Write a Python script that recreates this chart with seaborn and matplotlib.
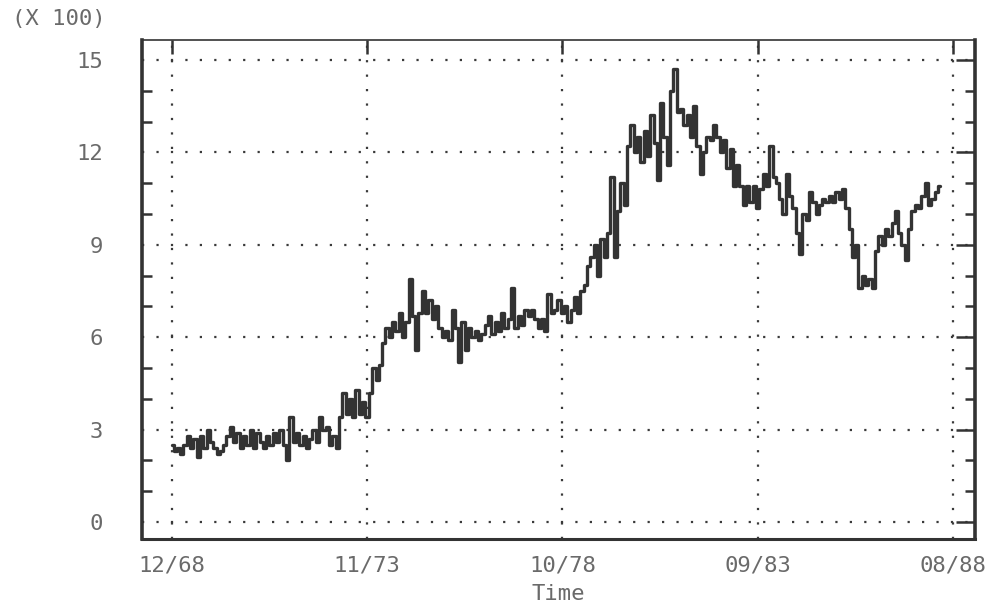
import numpy as np
import pandas as pd
import matplotlib
matplotlib.use("Agg")
import matplotlib.pyplot as plt
import matplotlib.dates as mdates
import seaborn as sns

# Monthly index level (in hundreds), Dec 1968 through Aug 1988
start_month = "1968-12-01"
values = [
    # 1968-12 .. 1969-12
    2.5, 2.3, 2.4, 2.2, 2.5, 2.8, 2.4, 2.7, 2.1, 2.8, 2.4, 3.0, 2.6,
    # 1970
    2.4, 2.2, 2.3, 2.5, 2.8, 3.1, 2.6, 2.9, 2.4, 2.8, 2.5, 3.0,
    # 1971
    2.4, 2.9, 2.6, 2.4, 2.8, 2.5, 2.9, 2.6, 3.0, 2.5, 2.0, 3.4,
    # 1972
    2.6, 2.9, 2.5, 2.8, 2.4, 2.7, 3.0, 2.6, 3.4, 3.0, 3.1, 2.5,
    # 1973
    2.8, 2.4, 3.4, 4.2, 3.5, 4.0, 3.4, 4.3, 3.5, 3.9, 3.4, 4.2,
    # 1974
    5.0, 4.6, 5.1, 5.8, 6.3, 6.0, 6.5, 6.2, 6.8, 6.0, 6.5, 7.9,
    # 1975
    6.7, 5.6, 6.8, 7.5, 6.8, 7.2, 6.6, 7.0, 6.3, 6.0, 6.2, 5.9,
    # 1976
    6.9, 6.3, 5.2, 6.5, 5.6, 6.3, 6.0, 6.2, 5.9, 6.1, 6.4, 6.7,
    # 1977
    6.1, 6.5, 6.2, 6.8, 6.3, 6.6, 7.6, 6.3, 6.7, 6.4, 6.9, 6.7,
    # 1978
    6.9, 6.6, 6.3, 6.6, 6.2, 7.4, 6.8, 6.9, 7.2, 6.8, 7.0, 6.5,
    # 1979
    6.9, 7.3, 6.8, 7.5, 7.7, 8.3, 8.6, 9.0, 8.0, 9.2, 8.6, 9.4,
    # 1980
    11.2, 8.6, 10.1, 11.0, 10.3, 12.2, 12.9, 12.0, 12.5, 11.7, 12.7, 11.9,
    # 1981
    13.2, 12.3, 11.1, 13.6, 12.5, 11.6, 14.0, 14.7, 13.3, 13.4, 12.9, 13.2,
    # 1982
    12.5, 13.5, 12.2, 11.3, 12.0, 12.5, 12.4, 12.9, 12.5, 12.0, 12.4, 11.5,
    # 1983
    12.1, 10.9, 11.6, 10.9, 10.3, 10.9, 10.4, 10.9, 10.2, 10.8, 11.3, 10.9,
    # 1984
    12.2, 11.2, 11.0, 10.5, 10.0, 11.3, 10.6, 10.2, 9.4, 8.7, 10.0, 9.8,
    # 1985
    10.7, 10.4, 10.0, 10.3, 10.5, 10.4, 10.6, 10.4, 10.7, 10.5, 10.8, 10.2,
    # 1986
    9.5, 8.6, 9.0, 7.6, 8.0, 7.7, 7.9, 7.6, 8.8, 9.3, 9.0, 9.5,
    # 1987
    9.3, 9.7, 10.1, 9.4, 9.0, 8.5, 9.5, 10.1, 10.3, 10.2, 10.6, 11.0,
    # 1988
    10.3, 10.5, 10.7, 10.9,
]

x_tick_dates = ["1968-12-01", "1973-11-01", "1978-10-01", "1983-09-01", "1988-08-01"]
y_ticks = [0, 3, 6, 9, 12, 15]

dates = pd.date_range(start_month, periods=len(values), freq="MS")
df = pd.DataFrame({"Time": dates, "value": values})

sns.set_theme(style="white")
plt.rcParams["font.family"] = ["DejaVu Sans Mono", "DejaVu Sans"]

ink = "#333333"
text_col = "#6a6a6a"

fig = plt.figure(figsize=(9.97, 6.13), dpi=100)
ax = fig.add_axes([142 / 997, 74 / 613, (975 - 142) / 997, (539 - 40) / 613])

sns.lineplot(data=df, x="Time", y="value", ax=ax, color=ink, linewidth=2.4,
             drawstyle="steps-mid", estimator=None, sort=False)

ax.set_xlim(pd.Timestamp("1968-03-01"), pd.Timestamp("1989-02-20"))
ax.set_ylim(-0.55, 15.65)

ax.set_xticks(pd.to_datetime(x_tick_dates))
ax.xaxis.set_major_formatter(mdates.DateFormatter("%m/%y"))
ax.set_yticks(y_ticks)
ax.set_yticks(np.arange(0, 16, 1), minor=True)

ax.grid(True, which="major", color="#3a3a3a", linestyle=(0, (1, 5.5)), linewidth=1.6)
ax.grid(False, which="minor")

ax.tick_params(axis="both", which="major", direction="in", colors=ink,
               labelcolor=text_col, labelsize=16, top=True, right=True,
               length=10, width=1.8)
ax.tick_params(axis="y", which="major", length=14, pad=28)
ax.tick_params(axis="x", which="major", pad=12)
ax.tick_params(axis="y", which="minor", direction="in", left=True, right=True,
               length=7, width=1.8, color=ink)

for side, lw in {"left": 2.6, "bottom": 2.2, "top": 1.2, "right": 2.6}.items():
    ax.spines[side].set_visible(True)
    ax.spines[side].set_color(ink)
    ax.spines[side].set_linewidth(lw)

ax.set_xlabel("Time", fontsize=16, color=text_col, labelpad=6)
ax.set_ylabel("")

fig.text(12 / 997, 1 - 19 / 613, "(X 100)", fontsize=16, color=text_col,
         ha="left", va="center")

fig.savefig("out.png", dpi=100, facecolor="white")
